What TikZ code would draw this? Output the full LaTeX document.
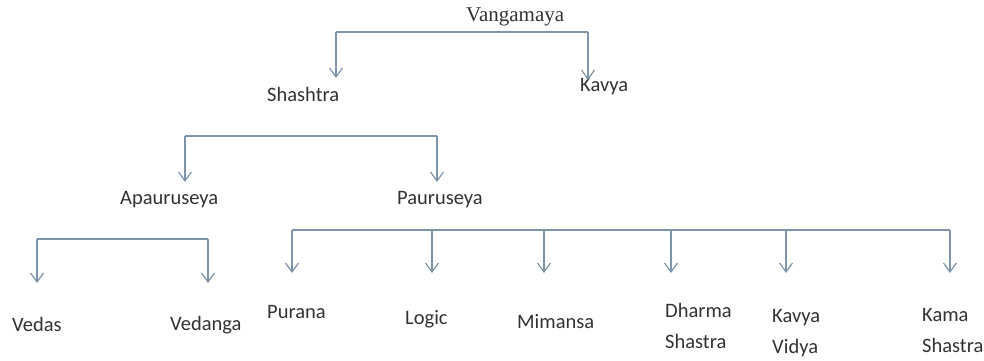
\documentclass[tikz,border=0pt]{standalone}
\usepackage{fontspec}
\setmainfont{Carlito}
\newfontfamily\serifface{Liberation Serif}
\usetikzlibrary{arrows.meta}
\definecolor{linkcol}{RGB}{126,148,170}
\definecolor{labelcol}{RGB}{50,50,50}
\tikzset{
  lbl/.style={anchor=base west, inner sep=0pt, text=labelcol, align=left,
    font=\fontsize{20.5}{31}\selectfont},
  toplbl/.style={lbl, font=\serifface\fontsize{21}{25}\selectfont},
  link/.style={draw=linkcol, line width=1.3pt},
  arr/.style={link, -{Straight Barb[length=9pt,width=13pt,line width=1.2pt]}}
}
\begin{document}
\begin{tikzpicture}[x=1pt,y=-1pt]
\useasboundingbox (0,0) rectangle (984,360);

% labels (two-line labels are placed by the baseline of their last line)
\node[toplbl] (vang) at (466,21) {Vangamaya};
\node[lbl] (shas) at (267,101) {Shashtra};
\node[lbl] (kav)  at (580,91)  {Kavya};
\node[lbl] (apau) at (120,204) {Apauruseya};
\node[lbl] (paur) at (397,204) {Pauruseya};
\node[lbl] (veda) at (12,331)  {Vedas};
\node[lbl] (vedg) at (170,330) {Vedanga};
\node[lbl] (pura) at (267,318) {Purana};
\node[lbl] (logi) at (405,324) {Logic};
\node[lbl] (mima) at (517,328) {Mimansa};
\node[lbl] (dhar) at (665,348) {Dharma\\Shastra};
\node[lbl] (kavi) at (772,353) {Kavya\\Vidya};
\node[lbl] (kama) at (922,352) {Kama\\Shastra};

% bus corners and arrow tips
\coordinate (b1l) at (336,32);  \coordinate (b1r) at (588,32);
\coordinate (t1l) at (336,78);  \coordinate (t1r) at (588,80);

\coordinate (b2l) at (185,136); \coordinate (b2r) at (437,136);
\coordinate (t2l) at (185,182); \coordinate (t2r) at (437,182);

\coordinate (b3l) at (37,239);  \coordinate (b3r) at (208,239);
\coordinate (t3l) at (37,283);  \coordinate (t3r) at (208,283);

\coordinate (b4a) at (292,230); \coordinate (b4f) at (950,230);
\coordinate (t4a) at (292,273); \coordinate (t4b) at (432,273);
\coordinate (t4c) at (544,273); \coordinate (t4d) at (671,273);
\coordinate (t4e) at (786,273); \coordinate (t4f) at (950,273);

% Vangamaya -> Shashtra, Kavya
\draw[link] (b1l) -- (b1r);
\draw[arr] (b1l) -- (t1l);
\draw[arr] (b1r) -- (t1r);

% Shashtra -> Apauruseya, Pauruseya
\draw[link] (b2l) -- (b2r);
\draw[arr] (b2l) -- (t2l);
\draw[arr] (b2r) -- (t2r);

% Apauruseya -> Vedas, Vedanga
\draw[link] (b3l) -- (b3r);
\draw[arr] (b3l) -- (t3l);
\draw[arr] (b3r) -- (t3r);

% Pauruseya -> six branches
\draw[link] (b4a) -- (b4f);
\foreach \t in {t4a,t4b,t4c,t4d,t4e,t4f}
  \draw[arr] (b4a -| \t) -- (\t);
\end{tikzpicture}
\end{document}
